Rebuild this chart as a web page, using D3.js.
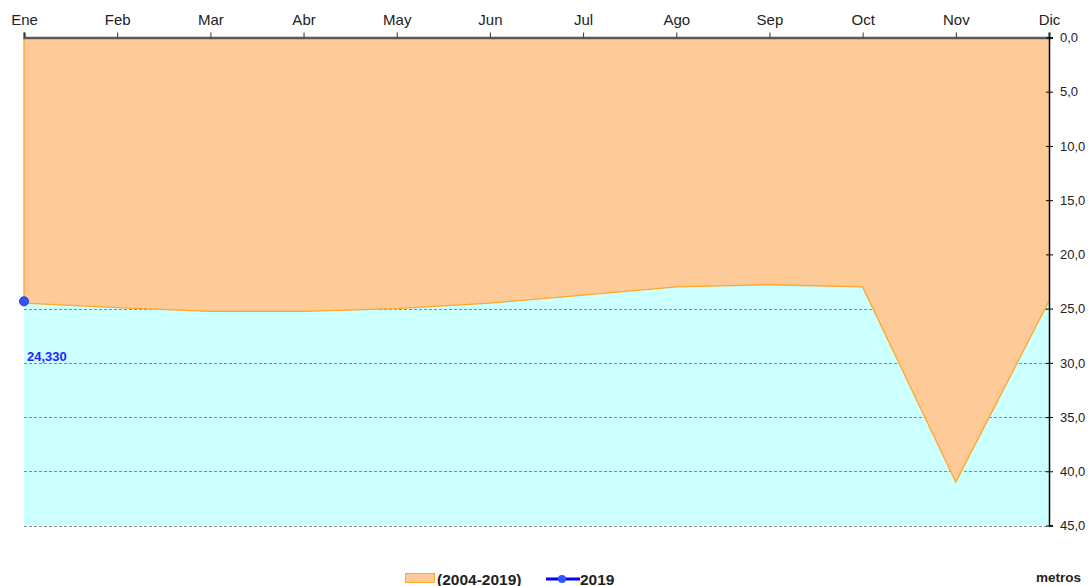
<!DOCTYPE html>
<html>
<head>
<meta charset="utf-8">
<script src="https://cdn.jsdelivr.net/npm/d3@7"></script>
<style>
  body { margin: 0; background: #fff; }
  text { font-family: "Liberation Sans", Arial, sans-serif; }
</style>
</head>
<body>
<div id="chart"></div>
<script>
// months and values (depth in metres)
var months = ["Ene", "Feb", "Mar", "Abr", "May", "Jun", "Jul", "Ago", "Sep", "Oct", "Nov", "Dic"];
var mean2004_2019 = [24.5, 24.9, 25.25, 25.25, 25.0, 24.5, 23.75, 23.0, 22.8, 23.0, 41.0, 24.3];
var months2019 = ["Ene"];
var values2019 = [24.33];
var labels2019 = ["24,330"];
var yTicks = [0, 5, 10, 15, 20, 25, 30, 35, 40, 45];

var width = 1089, height = 586;
var margin = {top: 37.5, right: 40, bottom: 60, left: 24};

var svg = d3.select("#chart").append("svg")
    .attr("width", width)
    .attr("height", height);

var x = d3.scalePoint()
    .domain(months)
    .range([margin.left, 1049]);

var y = d3.scaleLinear()
    .domain([0, 45])
    .range([margin.top, 525.5]);

// background
svg.append("rect")
    .attr("x", x("Ene"))
    .attr("y", y(0))
    .attr("width", x("Dic") - x("Ene"))
    .attr("height", y(45) - y(0))
    .attr("fill", "#ccffff");

// grid lines
svg.append("g")
    .selectAll("line")
    .data(yTicks.filter(function(d) { return d > 0; }))
    .enter().append("line")
    .attr("x1", x("Ene"))
    .attr("x2", x("Dic"))
    .attr("y1", function(d) { return Math.round(y(d)) + 0.5; })
    .attr("y2", function(d) { return Math.round(y(d)) + 0.5; })
    .attr("stroke", "#888")
    .attr("stroke-width", 1)
    .attr("stroke-dasharray", "3,2");

// mean area, filled from the surface down to the line
var area = d3.area()
    .x(function(d, i) { return x(months[i]); })
    .y0(y(0))
    .y1(function(d) { return y(d); });

svg.append("path")
    .datum(mean2004_2019)
    .attr("d", area)
    .attr("fill", "#fecb98");

var line = d3.line()
    .x(function(d, i) { return x(months[i]); })
    .y(function(d) { return y(d); });

svg.append("path")
    .datum(mean2004_2019)
    .attr("d", line)
    .attr("fill", "none")
    .attr("stroke", "#ffa726")
    .attr("stroke-width", 1.3);

svg.append("line")
    .attr("x1", x("Ene")).attr("x2", x("Ene"))
    .attr("y1", y(0)).attr("y2", y(mean2004_2019[0]))
    .attr("stroke", "#ffa726")
    .attr("stroke-width", 1.3);

// top axis
var xAxis = d3.axisTop(x).tickSize(5).tickPadding(8);
var gx = svg.append("g")
    .attr("transform", "translate(0," + y(0) + ")")
    .call(xAxis);
gx.select(".domain").attr("stroke", "#5a5a5a").attr("stroke-width", 2.5);
gx.selectAll(".tick line").attr("stroke", "#333");
gx.selectAll(".tick text")
    .attr("font-size", 15)
    .attr("fill", "#222")
    .style("font-family", "'Liberation Sans', Arial, sans-serif");

// right axis
var yAxis = d3.axisRight(y)
    .tickValues(yTicks)
    .tickSize(4)
    .tickPadding(7)
    .tickFormat(function(d) { return d3.format(".1f")(d).replace(".", ","); });
var gy = svg.append("g")
    .attr("transform", "translate(" + x("Dic") + ",0)")
    .call(yAxis);
gy.select(".domain").attr("stroke", "#000").attr("stroke-width", 1.5);
gy.selectAll(".tick line").attr("x1", -3).attr("stroke", "#000");
gy.selectAll(".tick text")
    .attr("font-size", 13)
    .attr("fill", "#222")
    .style("font-family", "'Liberation Sans', Arial, sans-serif");

// 2019 series
svg.append("g")
    .selectAll("circle")
    .data(values2019)
    .enter().append("circle")
    .attr("cx", function(d, i) { return x(months2019[i]); })
    .attr("cy", function(d) { return y(d); })
    .attr("r", 4.5)
    .attr("fill", "#3355ff")
    .attr("stroke", "#2233cc")
    .attr("stroke-width", 1);

svg.append("g")
    .selectAll("text")
    .data(values2019)
    .enter().append("text")
    .attr("x", function(d, i) { return x(months2019[i]) + 3; })
    .attr("y", function(d) { return y(d) + 60; })
    .attr("font-size", 13)
    .attr("font-weight", "bold")
    .attr("fill", "#2424ff")
    .text(function(d, i) { return labels2019[i]; });

// legend
var legend = svg.append("g").attr("transform", "translate(0,579)");
legend.append("rect")
    .attr("x", 405.5).attr("y", -5.5)
    .attr("width", 29).attr("height", 9)
    .attr("fill", "#fecb98")
    .attr("stroke", "#ffa726")
    .attr("stroke-width", 1);
legend.append("text")
    .attr("x", 437).attr("y", 5.5)
    .attr("font-size", 15.5)
    .attr("font-weight", "bold")
    .attr("fill", "#222")
    .text("(2004-2019)");
legend.append("line")
    .attr("x1", 546).attr("x2", 580)
    .attr("y1", 0).attr("y2", 0)
    .attr("stroke", "#0000ff")
    .attr("stroke-width", 3);
legend.append("circle")
    .attr("cx", 562).attr("cy", 0).attr("r", 4)
    .attr("fill", "#3355ff");
legend.append("text")
    .attr("x", 580).attr("y", 5.5)
    .attr("font-size", 15.5)
    .attr("font-weight", "bold")
    .attr("fill", "#222")
    .text("2019");

svg.append("text")
    .attr("x", 1081).attr("y", 582)
    .attr("text-anchor", "end")
    .attr("font-size", 13.5)
    .attr("font-weight", "bold")
    .attr("fill", "#222")
    .text("metros");
</script>
</body>
</html>
